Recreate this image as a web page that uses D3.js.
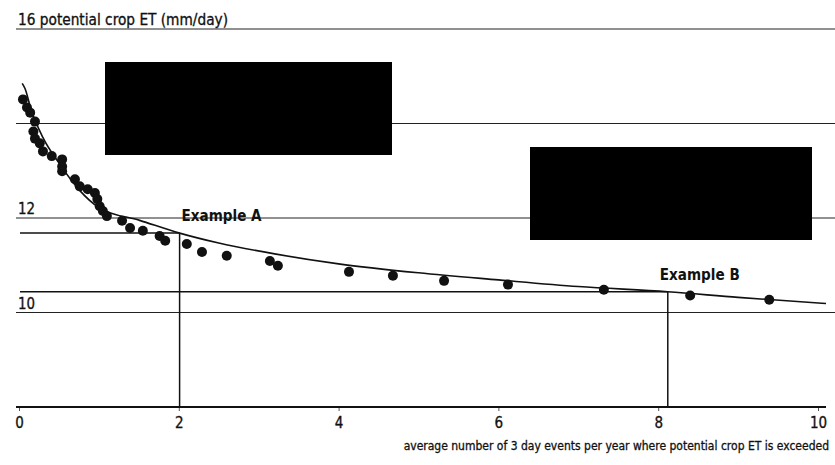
<!DOCTYPE html>
<html>
<head>
<meta charset="utf-8">
<title>potential crop ET</title>
<script src="https://cdn.jsdelivr.net/npm/d3@7"></script>
<style>
  body { margin: 0; background: #fff; }
  text { font-family: "Liberation Sans Narrow", "DejaVu Sans Condensed", "Liberation Sans", sans-serif; fill: #111; }
</style>
</head>
<body>
<div id="chart"></div>
<script>
// observed points (events per year, ET mm/day)
var obsX = [0.05, 0.10, 0.14, 0.20, 0.18, 0.20, 0.26, 0.30, 0.41, 0.54, 0.54, 0.54, 0.70, 0.76, 0.86, 0.95,
            0.98, 1.01, 1.05, 1.10, 1.29, 1.39, 1.55, 1.76, 1.83, 2.10, 2.29, 2.60, 3.14, 3.24, 4.13, 4.68,
            5.32, 6.12, 7.32, 8.40, 9.39];
var obsY = [14.51, 14.34, 14.23, 14.04, 13.83, 13.68, 13.58, 13.41, 13.31, 13.24, 13.09, 12.99, 12.82, 12.67, 12.61, 12.53,
            12.40, 12.25, 12.15, 12.04, 11.94, 11.79, 11.73, 11.62, 11.52, 11.45, 11.28, 11.20, 11.09, 10.99, 10.86, 10.78,
            10.67, 10.59, 10.48, 10.36, 10.27];

// fitted curve
var fitX = [0.04, 0.075, 0.15, 0.3, 0.51, 0.75, 1.01, 1.51, 2.01, 2.5, 3.2, 4, 5, 6, 7, 8.12, 9, 10.1];
var fitY = [14.85, 14.74, 14.3, 13.7, 13.14, 12.6, 12.21, 11.95, 11.68, 11.47, 11.24, 11.03, 10.84, 10.69, 10.55, 10.44, 10.32, 10.19];

var exampleNames = ["Example A", "Example B"];
var exampleX = [2.01, 8.12];
var exampleY = [11.68, 10.44];

var xTicks = [0, 2, 4, 6, 8, 10];
var gridY = [16, 14, 12, 10];
var yLabels = ["16 potential crop ET (mm/day)", "", "12", "10"];
var xTitle = "average number of 3 day events per year where potential crop ET is exceeded";

var W = 835, H = 465;
var svg = d3.select('#chart').append('svg').attr('width', W).attr('height', H);

var x = d3.scaleLinear().domain([0, 10]).range([19, 818]);
var y = d3.scaleLinear().domain([8, 16]).range([407, 29]);

// horizontal grid lines
svg.selectAll('.grid').data(gridY).enter().append('line')
    .attr('x1', 16).attr('x2', W)
    .attr('y1', function(d){ return y(d); }).attr('y2', function(d){ return y(d); })
    .attr('stroke', '#222').attr('stroke-width', 1);

// y labels
var labelWidths = [210, 0, 17, 17];
svg.selectAll('.ylab').data(gridY).enter().append('text')
    .attr('x', 18)
    .attr('y', function(d){ return y(d) - 4; })
    .attr('font-size', 15)
    .attr('stroke', '#111').attr('stroke-width', 0.3)
    .text(function(d, i){ return yLabels[i]; })
    .each(function(d, i){
        if (labelWidths[i]) d3.select(this).attr('textLength', labelWidths[i]).attr('lengthAdjust', 'spacingAndGlyphs');
    });

// x axis
var xAxis = svg.append('g').attr('transform', 'translate(0,' + y(8) + ')')
    .call(d3.axisBottom(x).tickValues(xTicks).tickSize(4).tickFormat(d3.format('d')));
xAxis.select('.domain').remove();
xAxis.append('line').attr('x1', 16).attr('x2', 826).attr('y1', 0).attr('y2', 0)
    .attr('stroke', '#111').attr('stroke-width', 2);
xAxis.selectAll('.tick line').attr('stroke', '#555');
xAxis.selectAll('.tick text')
    .attr('y', 10).attr('font-size', 15)
    .attr('font-family', '"Liberation Sans Narrow", "DejaVu Sans Condensed", sans-serif')
    .attr('fill', '#111').attr('stroke', '#111').attr('stroke-width', 0.3);

// x title: size the font so it spans about 428px, no squeezing
var xt = svg.append('text')
    .attr('x', 829).attr('y', 450)
    .attr('text-anchor', 'end')
    .attr('font-size', 14)
    .attr('stroke', '#111').attr('stroke-width', 0.3)
    .text(xTitle);
var natural = xt.node().getComputedTextLength();
xt.attr('font-size', Math.min(16, 14 * 426 / natural));

// redaction boxes
svg.append('rect').attr('x', 105).attr('y', 62).attr('width', 287).attr('height', 93).attr('fill', '#000');
svg.append('rect').attr('x', 530).attr('y', 147).attr('width', 282).attr('height', 93).attr('fill', '#000');

// example guide lines
var ex = exampleX.map(function(d, i){ return {name: exampleNames[i], x: d, y: exampleY[i]}; });
svg.selectAll('.exh').data(ex).enter().append('line')
    .attr('x1', 20).attr('x2', function(d){ return x(d.x); })
    .attr('y1', function(d){ return y(d.y); }).attr('y2', function(d){ return y(d.y); })
    .attr('stroke', '#111').attr('stroke-width', 1.5);
svg.selectAll('.exv').data(ex).enter().append('line')
    .attr('x1', function(d){ return x(d.x); }).attr('x2', function(d){ return x(d.x); })
    .attr('y1', function(d){ return y(d.y); }).attr('y2', y(8))
    .attr('stroke', '#111').attr('stroke-width', 1.5);
svg.selectAll('.exl').data(ex).enter().append('text')
    .attr('x', function(d){ return x(d.x) + (d.name === 'Example A' ? 2 : -8); })
    .attr('y', function(d){ return y(d.y) - 12; })
    .attr('font-size', 15).attr('font-weight', 'bold')
    .attr('textLength', 80).attr('lengthAdjust', 'spacingAndGlyphs')
    .text(function(d){ return d.name; });

// fitted curve
var fit = fitX.map(function(d, i){ return [d, fitY[i]]; });
svg.append('path').datum(fit)
    .attr('d', d3.line().x(function(d){ return x(d[0]); }).y(function(d){ return y(d[1]); }).curve(d3.curveMonotoneX))
    .attr('fill', 'none').attr('stroke', '#111').attr('stroke-width', 1.6);

// observed points
svg.selectAll('.pt').data(obsX).enter().append('circle')
    .attr('cx', function(d){ return x(d); })
    .attr('cy', function(d, i){ return y(obsY[i]); })
    .attr('r', 5)
    .attr('fill', '#111');
</script>
</body>
</html>
